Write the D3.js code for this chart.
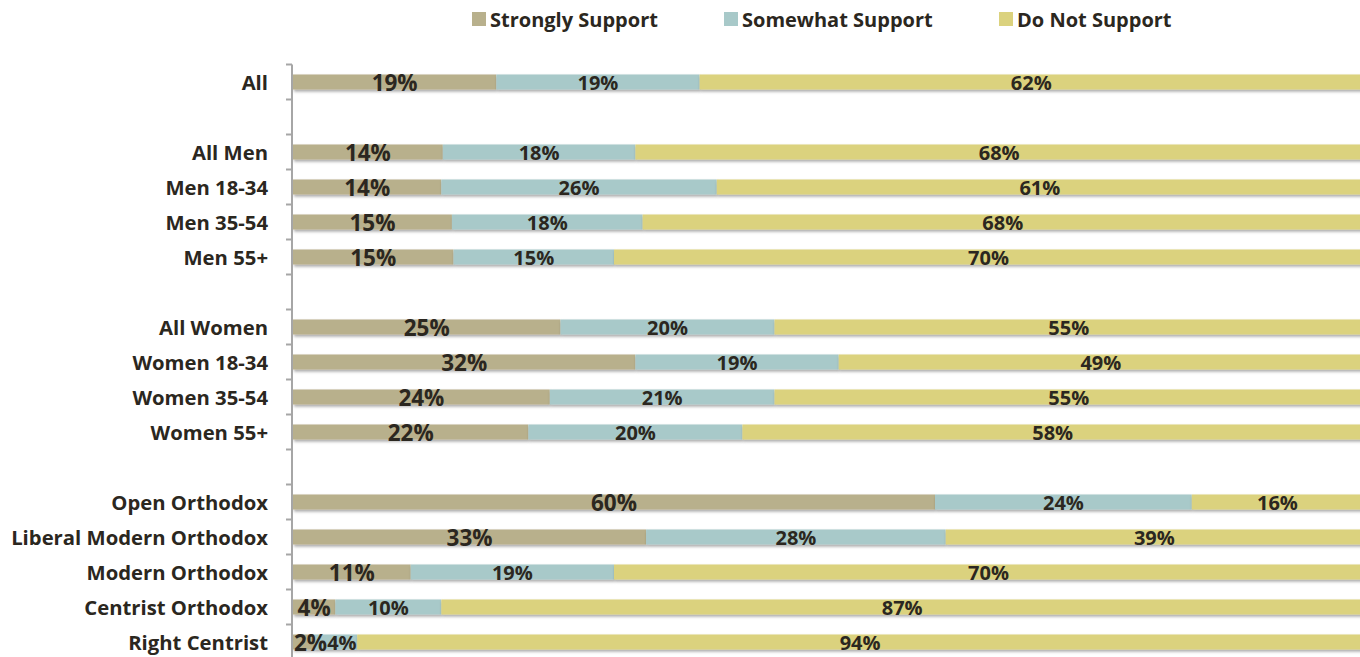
<!DOCTYPE html>
<html><head><meta charset="utf-8">
<script src="https://cdn.jsdelivr.net/npm/d3@7"></script>
<style>
html,body{margin:0;padding:0;background:#fff;overflow:hidden;}
text{font-family:"Open Sans",sans-serif;font-weight:700;fill:#2b2720;}
</style></head>
<body><svg id="c" width="1360" height="657"></svg>
<script>
const categories = ["All","","All Men","Men 18-34","Men 35-54","Men 55+","","All Women","Women 18-34","Women 35-54","Women 55+","","Open Orthodox","Liberal Modern Orthodox","Modern Orthodox","Centrist Orthodox","Right Centrist"];
const seriesNames = ["Strongly Support","Somewhat Support","Do Not Support"];
const strongly = [19,null,14,14,15,15,null,25,32,24,22,null,60,33,11,4,2];
const somewhat = [19,null,18,26,18,15,null,20,19,21,20,null,24,28,19,10,4];
const doNot    = [62,null,68,61,68,70,null,55,49,55,58,null,16,39,70,87,94];
const colors = ["#b8b08c","#a8c9c9","#dbd27e"];

(function(){
const svg = d3.select("#c");
const x0 = 293, x1 = 1363, yTop = 64.5, step = 35;
const y = d3.scaleBand().domain(d3.range(categories.length)).range([yTop, yTop + step*categories.length]).paddingInner(0.57).paddingOuter(0.285);
const x = d3.scaleLinear().domain([0,1]).range([x0, x1]);

const defs = svg.append("defs");
const f = defs.append("filter").attr("id","sh").attr("x","-5%").attr("y","-60%").attr("width","110%").attr("height","240%");
f.append("feDropShadow").attr("dx",1).attr("dy",2).attr("stdDeviation",1.6).attr("flood-color","#000").attr("flood-opacity",0.35);

const rows = categories.map((c,i)=>({i, c, s:strongly[i], m:somewhat[i], d:doNot[i]})).filter(r=>r.c!=="");
const stack = d3.stack().keys(["s","m","d"]).offset(d3.stackOffsetExpand);
const layers = stack(rows);

const g = svg.append("g");
layers.forEach((layer,k)=>{
  g.append("g").attr("filter","url(#sh)").selectAll("rect").data(layer).join("rect")
    .attr("x",d=>x(d[0])).attr("width",d=>x(d[1])-x(d[0]))
    .attr("y",d=>y(d.data.i)).attr("height",y.bandwidth())
    .attr("fill",colors[k]);
});
const labelSel = [];
layers.forEach((layer,k)=>{
  labelSel.push(g.selectAll(null).data(layer).join("text")
    .attr("x",d=>(x(d[0])+x(d[1]))/2)
    .attr("y",d=>y(d.data.i)+y.bandwidth()/2+1)
    .attr("dy","0.36em")
    .attr("text-anchor","middle")
    .style("font-size", k===0 ? "22.5px" : "20px")
    .text(d=>d.data[layer.key]+"%"));
});
// avoid overlaps within a row: push labels right when needed
rows.forEach((r,ri)=>{
  let prevRight = x0 + 1;
  labelSel.forEach(sel=>{
    const node = sel.nodes()[ri];
    const w = node.getComputedTextLength();
    let cx = +node.getAttribute("x");
    if (cx - w/2 < prevRight) cx = prevRight + w/2;
    node.setAttribute("x", cx);
    prevRight = cx + w/2;
  });
});

const axisG = svg.append("g").attr("transform",`translate(${x0-1},0)`);
const ticks = d3.range(categories.length+1).map(k=>yTop+step*k);
axisG.append("line").attr("x1",0).attr("x2",0).attr("y1",yTop).attr("y2",657).attr("stroke","#a6a6a6").attr("stroke-width",2);
axisG.selectAll("line.t").data(ticks).join("line").attr("class","t")
  .attr("x1",-6).attr("x2",0).attr("y1",d=>d).attr("y2",d=>d).attr("stroke","#a6a6a6").attr("stroke-width",2);
svg.append("g").selectAll("text").data(categories.map((c,i)=>({c,i})).filter(d=>d.c!=="")).join("text")
  .attr("x",268).attr("y",d=>y(d.i)+y.bandwidth()/2+1).attr("dy","0.36em")
  .attr("text-anchor","end").style("font-size","20.3px").text(d=>d.c);

const legX = [472,724,999];
const lg = svg.append("g");
seriesNames.forEach((n,k)=>{
  lg.append("rect").attr("x",legX[k]).attr("y",12).attr("width",14).attr("height",14).attr("fill",colors[k]);
  lg.append("text").attr("x",legX[k]+18).attr("y",19.5).attr("dy","0.36em").style("font-size","20px").text(n);
});
})();
</script></body></html>
